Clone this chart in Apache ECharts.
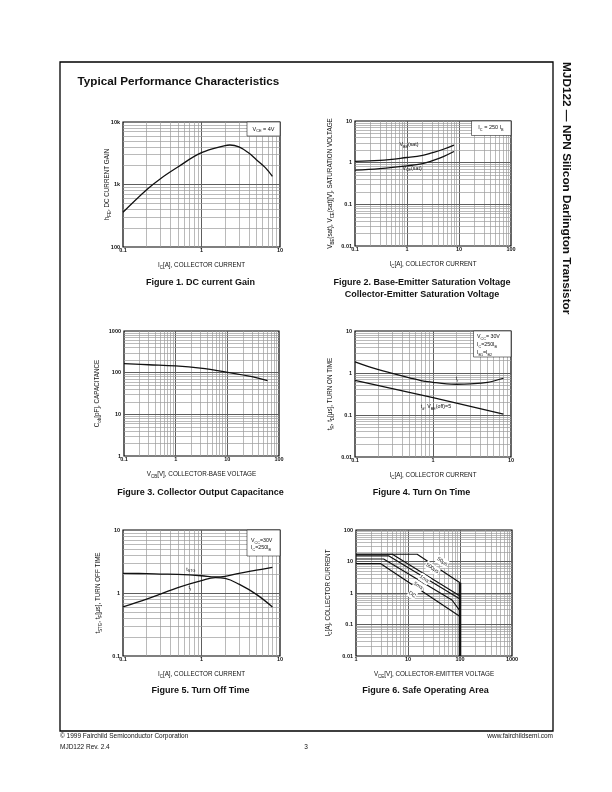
<!DOCTYPE html>
<html><head><meta charset="utf-8">
<script src="https://cdn.jsdelivr.net/npm/echarts@6/dist/echarts.min.js"></script>
<style>html,body{margin:0;padding:0;background:#fff}#c{width:612px;height:792px}</style>
</head><body><div id="c"></div>
<script>
// ---------- DATA ----------
// Figure 1: DC current gain (hFE) vs IC
const fig1IC = [0.1, 0.2, 0.3, 0.5, 1, 2, 2.3, 3, 4, 5, 6.5, 8];
const fig1Hfe = [360, 826, 1240, 1905, 3230, 4200, 4285, 4000, 3190, 2495, 1860, 1350];
const fig1XTicks = ['0.1', '1', '10'];
const fig1YTicks = ['100', '1k', '10k'];

// Figure 2: saturation voltages vs IC
const fig2IC = [0.1, 0.3, 1, 2, 3, 5, 8];
const fig2Vbe = [1.07, 1.13, 1.33, 1.5, 1.72, 2.1, 2.65];
const fig2Vce = [0.66, 0.72, 0.84, 0.95, 1.1, 1.4, 1.85];
const fig2XTicks = ['0.1', '1', '10', '100'];
const fig2YTicks = ['0.01', '0.1', '1', '10'];

// Figure 3: Cob vs VCB
const fig3Vcb = [0.1, 0.3, 1, 3, 10, 30, 60];
const fig3Cob = [165, 155, 145, 128, 102, 80, 64];
const fig3XTicks = ['0.1', '1', '10', '100'];
const fig3YTicks = ['1', '10', '100', '1000'];

// Figure 4: turn on time
const fig4IC = [0.1, 0.2, 0.5, 0.7, 1, 1.5, 2, 3, 5, 8];
const fig4Tr = [1.85, 1.2, 0.77, 0.66, 0.6, 0.55, 0.54, 0.55, 0.6, 0.75];
const fig4TdIC = [0.1, 1, 8];
const fig4Td = [0.67, 0.26, 0.105];
const fig4XTicks = ['0.1', '1', '10'];
const fig4YTicks = ['0.01', '0.1', '1', '10'];

// Figure 5: turn off time
const fig5IC = [0.1, 0.2, 0.3, 0.5, 1, 1.5, 2, 3, 5, 8];
const fig5Tstg = [2.05, 2.03, 2.0, 1.97, 1.88, 1.8, 1.84, 2.05, 2.3, 2.55];
const fig5Tf = [0.6, 0.8, 0.96, 1.22, 1.57, 1.75, 1.7, 1.38, 0.95, 0.6];
const fig5XTicks = ['0.1', '1', '10'];
const fig5YTicks = ['0.1', '1', '10'];

// Figure 6: safe operating area (VCE, IC)
const soa50usV = [1, 15, 100];   const soa50usI = [17, 17, 2.1];
const soa500usV = [1, 5, 100];   const soa500usI = [17, 17, 0.8];
const soa1msV = [1, 4.3, 100];   const soa1msI = [15, 15, 0.65];
const soa5msV = [1, 3.4, 70, 100]; const soa5msI = [12, 12, 0.6, 0.27];
const soaDCV = [1, 3, 100];      const soaDCI = [8.5, 8.5, 0.18];
const soaLimitV = [100, 100];    const soaLimitI = [2.1, 0.01];
const fig6XTicks = ['1', '10', '100', '1000'];
const fig6YTicks = ['0.01', '0.1', '1', '10', '100'];

// ---------- LAYOUT / STYLE ----------
const F = "'Liberation Sans', Arial, Helvetica, sans-serif";
const INK = '#111';
function richL(fs) {
  return {
    n: { fontSize: fs, fontFamily: F, color: INK, lineHeight: Math.round(fs * 1.5) },
    s: { fontSize: fs * 0.7, fontFamily: F, color: INK, lineHeight: Math.round(fs * 0.7) + 1, verticalAlign: 'bottom' }
  };
}
function richG(fs) {
  return {
    n: { fontSize: fs, fontFamily: F, fill: INK, lineHeight: Math.round(fs * 1.5) },
    s: { fontSize: fs * 0.7, fontFamily: F, fill: INK, lineHeight: Math.round(fs * 0.7) + 1, verticalAlign: 'bottom' }
  };
}

const grids = [
  { left: 123, top: 122, width: 157, height: 125 },
  { left: 355, top: 121, width: 156, height: 125 },
  { left: 124, top: 331, width: 155, height: 125 },
  { left: 355, top: 331, width: 156, height: 126 },
  { left: 123, top: 530, width: 157, height: 126 },
  { left: 356, top: 530, width: 156, height: 126 }
];
const ranges = [
  { x: [0.1, 10], y: [100, 10000] },
  { x: [0.1, 100], y: [0.01, 10] },
  { x: [0.1, 100], y: [1, 1000] },
  { x: [0.1, 10], y: [0.01, 10] },
  { x: [0.1, 10], y: [0.1, 10] },
  { x: [1, 1000], y: [0.01, 100] }
];
const xTicks = [fig1XTicks, fig2XTicks, fig3XTicks, fig4XTicks, fig5XTicks, fig6XTicks];
const yTicks = [fig1YTicks, fig2YTicks, fig3YTicks, fig4YTicks, fig5YTicks, fig6YTicks];
const IC_NAME = '{n|I}{s|C}{n|[A], COLLECTOR CURRENT}';
const xNames = [IC_NAME, IC_NAME, '{n|V}{s|CB}{n|[V], COLLECTOR-BASE VOLTAGE}', IC_NAME, IC_NAME,
  '{n|V}{s|CE}{n|[V], COLLECTOR-EMITTER VOLTAGE}'];
const yNames = [
  '{n|h}{s|FE}{n|, DC CURRENT GAIN}',
  '{n|V}{s|BE}{n|(sat), V}{s|CE}{n|(sat)[V], SATURATION VOLTAGE}',
  '{n|C}{s|ob}{n|[pF], CAPACITANCE}',
  '{n|t}{s|R}{n|, t}{s|D}{n|[μs], TURN ON TIME}',
  '{n|t}{s|STG}{n|, t}{s|F}{n|[μs], TURN OFF TIME}',
  IC_NAME
];
const yNameGaps = [11.5, 20.5, 22.5, 20.5, 20.5, 23.5];

function tickFmt(ticks, min) {
  return function (v) {
    const i = Math.round(Math.log10(v) - Math.log10(min));
    return ticks[i] !== undefined ? ticks[i] : '';
  };
}
function logSteps(a, b) {
  const res = [];
  for (let e = Math.round(Math.log10(a)); e < Math.round(Math.log10(b)); e++) {
    for (let m = 1; m <= 9; m++) {
      const v = m * Math.pow(10, e);
      if (v > a * 1.0001 && v < b * 0.9999) res.push({ v: v, major: m === 1 });
    }
  }
  return res;
}
const MINOR = { color: '#9c9c9c', width: 0.7 };
const MAJOR = { color: '#5e5e5e', width: 1 };
function gridLineSeries(i) {
  const r = ranges[i];
  const data = [];
  logSteps(r.x[0], r.x[1]).forEach(function (t) {
    data.push({ coords: [[t.v, r.y[0]], [t.v, r.y[1]]], lineStyle: t.major ? MAJOR : MINOR });
  });
  logSteps(r.y[0], r.y[1]).forEach(function (t) {
    data.push({ coords: [[r.x[0], t.v], [r.x[1], t.v]], lineStyle: t.major ? MAJOR : MINOR });
  });
  return { type: 'lines', coordinateSystem: 'cartesian2d', xAxisIndex: i, yAxisIndex: i,
    silent: true, animation: false, z: 1, data: data, lineStyle: { opacity: 1, curveness: 0 } };
}
function zip(xs, ys) { return xs.map(function (x, k) { return [x, ys[k]]; }); }
function curve(i, xs, ys, smooth, width) {
  return { type: 'line', xAxisIndex: i, yAxisIndex: i, data: zip(xs, ys), showSymbol: false,
    symbol: 'none', smooth: smooth, z: 3, silent: true, animation: false,
    lineStyle: { color: INK, width: width || 1.3 } };
}

const xAxes = [], yAxes = [];
for (let i = 0; i < 6; i++) {
  xAxes.push({ type: 'log', logBase: 10, gridIndex: i, min: ranges[i].x[0], max: ranges[i].x[1],
    axisLine: { show: false }, axisTick: { show: false }, splitLine: { show: false },
    axisLabel: { fontSize: 5.5, fontWeight: 'bold', fontFamily: F, color: INK, margin: 0.5,
      showMinLabel: true, showMaxLabel: true, formatter: tickFmt(xTicks[i], ranges[i].x[0]) },
    name: xNames[i], nameLocation: 'middle', nameGap: 13.5, nameMoveOverlap: false,
    nameTextStyle: { fontSize: 6.3, fontFamily: F, color: INK, rich: richL(6.3) } });
  yAxes.push({ type: 'log', logBase: 10, gridIndex: i, min: ranges[i].y[0], max: ranges[i].y[1],
    axisLine: { show: false }, axisTick: { show: false }, splitLine: { show: false },
    axisLabel: { fontSize: 5.5, fontWeight: 'bold', fontFamily: F, color: INK, margin: 3,
      showMinLabel: true, showMaxLabel: true, formatter: tickFmt(yTicks[i], ranges[i].y[0]) },
    name: yNames[i], nameLocation: 'middle', nameGap: yNameGaps[i], nameMoveOverlap: false,
    nameTextStyle: { fontSize: 6.3, fontFamily: F, color: INK, rich: richL(6.3) } });
}

const series = [];
for (let i = 0; i < 6; i++) series.push(gridLineSeries(i));
series.push(curve(0, fig1IC, fig1Hfe, 0.4));
series.push(curve(1, fig2IC, fig2Vbe, 0.4));
series.push(curve(1, fig2IC, fig2Vce, 0.4));
series.push(curve(2, fig3Vcb, fig3Cob, 0.4));
series.push(curve(3, fig4IC, fig4Tr, 0.4));
series.push(curve(3, fig4TdIC, fig4Td, 0));
series.push(curve(4, fig5IC, fig5Tstg, 0.4));
series.push(curve(4, fig5IC, fig5Tf, 0.4));
series.push(curve(5, soa50usV, soa50usI, 0, 1.2));
series.push(curve(5, soa500usV, soa500usI, 0, 1.2));
series.push(curve(5, soa1msV, soa1msI, 0, 1.2));
series.push(curve(5, soa5msV, soa5msI, 0, 1.2));
series.push(curve(5, soaDCV, soaDCI, 0, 1.2));
series.push(curve(5, soaLimitV, soaLimitI, 0, 2.6));

const option = {
  backgroundColor: '#fff',
  animation: false,
  grid: grids.map(function (g) {
    return Object.assign({ show: true, borderColor: '#000', borderWidth: 1.2, backgroundColor: 'transparent', containLabel: false }, g);
  }),
  xAxis: xAxes,
  yAxis: yAxes,
  series: series
};

const chart = echarts.init(document.getElementById('c'));
chart.setOption(option);

// ---------- ANNOTATIONS ----------
function txt(x, y, text, o) {
  o = o || {};
  return { type: 'text', x: x, y: y, z: 20, rotation: o.rot || 0, silent: true,
    style: { text: text, fontSize: o.fs || 6.5, fontFamily: F, fontWeight: o.bold ? 'bold' : 'normal',
      fill: INK, align: o.align || 'left', verticalAlign: 'middle', rich: o.rich,
      backgroundColor: o.bg || null, padding: o.pad || 0 } };
}
function box(x, y, w, h) {
  return { type: 'rect', z: 15, silent: true, shape: { x: x, y: y, width: w, height: h },
    style: { fill: '#fff', stroke: '#222', lineWidth: 0.6 } };
}
const g = [];
g.push({ type: 'rect', z: 20, silent: true, shape: { x: 60, y: 62, width: 493, height: 669 },
  style: { fill: 'none', stroke: '#000', lineWidth: 1.3 } });
g.push(txt(77.5, 81.5, 'Typical Performance Characteristics', { fs: 11.7, bold: true }));
g.push(txt(566, 62, 'MJD122 — NPN Silicon Darlington Transistor', { fs: 11.8, bold: true, rot: -Math.PI / 2 }));
g.push(txt(60, 736, '© 1999 Fairchild Semiconductor Corporation', { fs: 6.5 }));
g.push(txt(60, 747, 'MJD122 Rev. 2.4', { fs: 6.5 }));
g.push(txt(306, 747, '3', { fs: 6.5, align: 'center' }));
g.push(txt(553, 736, 'www.fairchildsemi.com', { fs: 6.5, align: 'right' }));
// captions
g.push(txt(200.5, 283, 'Figure 1. DC current Gain', { fs: 9, bold: true, align: 'center' }));
g.push(txt(422, 283, 'Figure 2. Base-Emitter Saturation Voltage', { fs: 9, bold: true, align: 'center' }));
g.push(txt(422, 295, 'Collector-Emitter Saturation Voltage', { fs: 9, bold: true, align: 'center' }));
g.push(txt(200.5, 493, 'Figure 3. Collector Output Capacitance', { fs: 9, bold: true, align: 'center' }));
g.push(txt(421.5, 493, 'Figure 4. Turn On Time', { fs: 9, bold: true, align: 'center' }));
g.push(txt(200.5, 691, 'Figure 5. Turn Off Time', { fs: 9, bold: true, align: 'center' }));
g.push(txt(425.5, 691, 'Figure 6. Safe Operating Area', { fs: 9, bold: true, align: 'center' }));
// condition boxes
g.push(box(247, 122, 33, 14));
g.push(txt(263.5, 129, '{n|V}{s|CE}{n| = 4V}', { fs: 5.5, align: 'center', rich: richG(5.5) }));
g.push(box(471.5, 121, 39.5, 14.5));
g.push(txt(491, 127.5, '{n|I}{s|C}{n| = 250 I}{s|B}', { fs: 5.5, align: 'center', rich: richG(5.5) }));
g.push(box(473.5, 331, 37.5, 26));
g.push(txt(477, 336.5, '{n|V}{s|CC}{n|= 30V}', { fs: 5.3, rich: richG(5.3) }));
g.push(txt(477, 344.5, '{n|I}{s|C}{n|=250I}{s|B}', { fs: 5.3, rich: richG(5.3) }));
g.push(txt(477, 352.5, '{n|I}{s|B1}{n|=I}{s|B2}', { fs: 5.3, rich: richG(5.3) }));
g.push(box(247, 530, 33, 26));
g.push(txt(251, 540.5, '{n|V}{s|CC}{n|=30V}', { fs: 5.3, rich: richG(5.3) }));
g.push(txt(251, 547.5, '{n|I}{s|C}{n|=250I}{s|B}', { fs: 5.3, rich: richG(5.3) }));

// curve labels anchored in data coordinates
const curveLabels = [
  { grid: 1, at: [1.09, 2.7], text: '{n|V}{s|BE}{n|(sat)}' },
  { grid: 1, at: [1.25, 0.73], text: '{n|V}{s|CE}{n|(sat)}' },
  { grid: 3, at: [2.03, 0.72], text: '{n|t}{s|r}' },
  { grid: 3, at: [1.09, 0.155], text: '{n|t}{s|d}{n|, V}{s|BE}{n|(off)=5}' },
  { grid: 4, at: [0.73, 2.4], text: '{n|t}{s|STG}' },
  { grid: 4, at: [0.71, 1.2], text: '{n|t}{s|f}' },
  { grid: 5, at: [45.7, 9.9], text: '{n|50μs}', rot: -34, bg: '#fff' },
  { grid: 5, at: [29.3, 6.1], text: '{n|500μs}', rot: -34, bg: '#fff' },
  { grid: 5, at: [20.6, 2.8], text: '{n|1ms}', rot: -34, bg: '#fff' },
  { grid: 5, at: [15.8, 1.7], text: '{n|5ms}', rot: -34, bg: '#fff' },
  { grid: 5, at: [12.1, 0.9], text: '{n|DC}', rot: -34, bg: '#fff' }
];
curveLabels.forEach(function (l) {
  const p = chart.convertToPixel({ gridIndex: l.grid }, l.at);
  g.push(txt(p[0], p[1], l.text, { fs: 5.3, align: 'center', rich: richG(5.3), bg: l.bg || null, pad: [0, 0.5],
    rot: (l.rot || 0) * Math.PI / 180 }));
});
chart.setOption({ graphic: g });
</script>
</body></html>
